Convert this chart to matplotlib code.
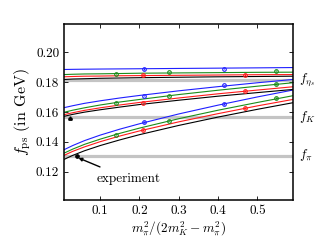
import numpy as np
import matplotlib
matplotlib.use("Agg")
import matplotlib.pyplot as plt
from matplotlib.ticker import FormatStrFormatter

plt.rcParams['font.family'] = 'serif'
plt.rcParams['font.serif'] = ['cmr10', 'DejaVu Serif']
plt.rcParams['mathtext.fontset'] = 'cm'
plt.rcParams['axes.formatter.use_mathtext'] = True

# fit curves
x_fit = [0.008, 0.03, 0.06, 0.1, 0.15, 0.2, 0.3, 0.4, 0.5, 0.59]

fpi_blue = [0.1347, 0.1375, 0.1408, 0.1445, 0.1485, 0.1521, 0.1587, 0.1646, 0.1701, 0.1747]
fpi_green = [0.1324, 0.1351, 0.1383, 0.1418, 0.1457, 0.1492, 0.1555, 0.1612, 0.1664, 0.1709]
fpi_red = [0.1309, 0.1336, 0.1366, 0.1401, 0.1439, 0.1473, 0.1534, 0.1589, 0.1641, 0.1684]
fpi_black = [0.1282, 0.1309, 0.1340, 0.1375, 0.1413, 0.1448, 0.1510, 0.1566, 0.1618, 0.1662]

fk_blue = [0.1629, 0.1642, 0.1658, 0.1675, 0.1694, 0.1711, 0.1742, 0.1770, 0.1796, 0.1818]
fk_green = [0.1598, 0.1612, 0.1628, 0.1647, 0.1667, 0.1684, 0.1717, 0.1746, 0.1773, 0.1796]
fk_red = [0.1582, 0.1595, 0.1611, 0.1628, 0.1647, 0.1664, 0.1694, 0.1722, 0.1747, 0.1769]
fk_black = [0.1571, 0.1584, 0.1599, 0.1615, 0.1633, 0.1650, 0.1679, 0.1706, 0.1730, 0.1751]

fes_blue = [0.1885, 0.1886, 0.1887, 0.1888, 0.1889, 0.1890, 0.1892, 0.1894, 0.1896, 0.1898]
fes_green = [0.1851, 0.1853, 0.1855, 0.1856, 0.1858, 0.1860, 0.1862, 0.1864, 0.1866, 0.1867]
fes_red = [0.1836, 0.1838, 0.1840, 0.1841, 0.1843, 0.1844, 0.1846, 0.1848, 0.1850, 0.1851]
fes_black = [0.1818, 0.1821, 0.1823, 0.1826, 0.1828, 0.1830, 0.1833, 0.1836, 0.1838, 0.1840]

# lattice points
x_blue = [0.212, 0.4155]
x_green = [0.1407, 0.274, 0.548]
x_red = [0.21, 0.469]

pi_blue_pts = [0.1534, 0.1655]
pi_green_pts = [0.1448, 0.1543, 0.1695]
pi_red_pts = [0.1478, 0.1628]
k_blue_pts = [0.1709, 0.1778]
k_green_pts = [0.1658, 0.1710, 0.1789]
k_red_pts = [0.1663, 0.1740]
es_blue_pts = [0.1889, 0.1891]
es_green_pts = [0.1858, 0.1865, 0.1878]
es_red_pts = [0.1849, 0.1847]

# experimental values
f_exp = [0.1304, 0.1564, 0.1815]
exp_labels = [r'$f_\pi$', r'$f_K$', r'$f_{\eta_s}$']
x_phys = 0.0417

fig = plt.figure(figsize=(3.25, 2.5), dpi=100)
ax = fig.add_axes([0.197, 0.2, 0.705, 0.704])

for f in f_exp:
    ax.axhline(f, color='#c4c4c4', lw=2.3, zorder=1)

colors = {'blue': '#1f1fff', 'green': '#1a8c1a', 'red': '#ff1a1a', 'black': 'black'}
curves = [
    ('blue', [fpi_blue, fk_blue, fes_blue]),
    ('green', [fpi_green, fk_green, fes_green]),
    ('red', [fpi_red, fk_red, fes_red]),
    ('black', [fpi_black, fk_black, fes_black]),
]
for c, sets in curves:
    for y in sets:
        ax.plot(x_fit, y, color=colors[c], lw=0.8, zorder=2)

points = [
    ('blue', x_blue, [pi_blue_pts, k_blue_pts, es_blue_pts]),
    ('green', x_green, [pi_green_pts, k_green_pts, es_green_pts]),
    ('red', x_red, [pi_red_pts, k_red_pts, es_red_pts]),
]
for c, xs, sets in points:
    for y in sets:
        ax.errorbar(xs, y, yerr=0.0005, fmt='o', ms=2.6, mfc='none', mec=colors[c],
                    mew=0.8, ecolor=colors[c], elinewidth=0.7, capsize=0, zorder=3)

ax.plot([x_phys], [f_exp[0]], marker='o', ms=2.4, color='black', zorder=4)
ax.errorbar([0.022], [0.1557], yerr=0.0006, fmt='^', ms=2.4, color='black',
            elinewidth=0.8, capsize=1.5, zorder=4)

ax.annotate('experiment', xy=(x_phys + 0.003, f_exp[0] - 0.0012), xytext=(0.0915, 0.1151),
            fontsize=9.5, va='center', ha='left',
            arrowprops=dict(arrowstyle='-|>', color='black', lw=1.0, mutation_scale=5,
                            shrinkA=6, shrinkB=0))

for f, lab in zip(f_exp, exp_labels):
    ax.text(1.025, f + 0.0005, lab, transform=ax.get_yaxis_transform(), fontsize=9.5,
            ha='left', va='center')

ax.set_xlim(0.008, 0.591)
ax.set_ylim(0.101, 0.219)
ax.set_xticks([0.1, 0.2, 0.3, 0.4, 0.5])
ax.set_yticks([0.12, 0.14, 0.16, 0.18, 0.20])
ax.yaxis.set_major_formatter(FormatStrFormatter('%.2f'))
ax.xaxis.set_major_formatter(FormatStrFormatter('%.1f'))
ax.tick_params(direction='in', top=True, right=True, labelsize=9.5, length=3, width=0.6)
for s in ax.spines.values():
    s.set_linewidth(1.1)

ax.set_xlabel(r'$m_\pi^2/(2m_K^2-m_\pi^2)$', fontsize=9.5, labelpad=2)
ax.set_ylabel(r'$f_{\rm ps}$ (in GeV)', fontsize=11.5, labelpad=2)

fig.savefig('out.png', dpi=100)
